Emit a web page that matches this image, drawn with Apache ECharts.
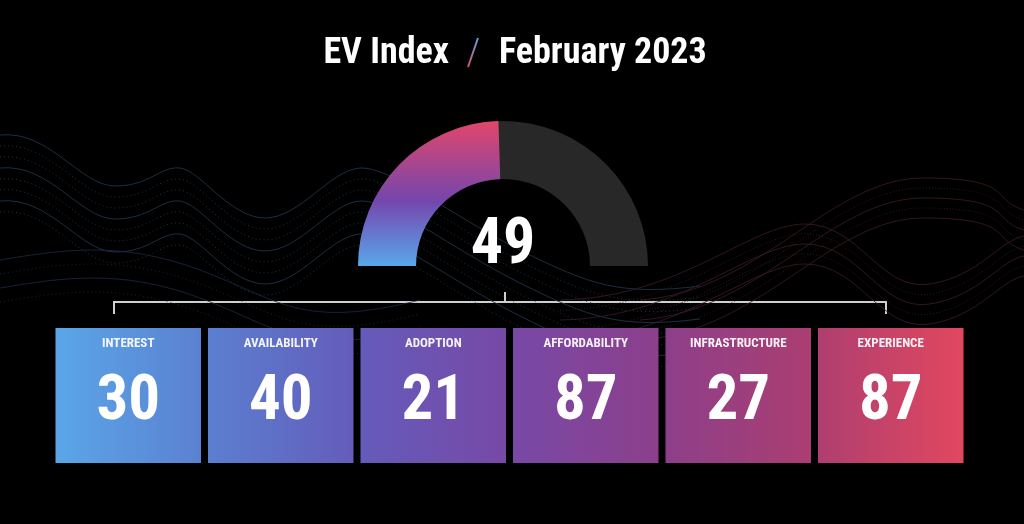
<!DOCTYPE html>
<html>
<head>
<meta charset="utf-8">
<script src="https://cdn.jsdelivr.net/npm/echarts@6/dist/echarts.min.js"></script>
<style>
  html, body { margin: 0; padding: 0; background: #000; }
  #chart { width: 1024px; height: 524px; }
</style>
</head>
<body>
<div id="chart"></div>
<script>
var indexValue = 49;
var categories = ['INTEREST', 'AVAILABILITY', 'ADOPTION', 'AFFORDABILITY', 'INFRASTRUCTURE', 'EXPERIENCE'];
var scores = [30, 40, 21, 87, 27, 87];

var FONT = "'Roboto Condensed', 'Liberation Sans Narrow', 'DejaVu Sans Condensed', Roboto, sans-serif";

// colour ramp used across the boxes, left to right
var ramp = [
  [0, [90, 167, 234]],
  [0.17, [91, 127, 208]],
  [0.35, [101, 88, 184]],
  [0.5, [120, 73, 167]],
  [0.67, [141, 63, 138]],
  [0.82, [168, 62, 114]],
  [1, [227, 71, 95]]
];
function rampColor(t) {
  for (var i = 1; i < ramp.length; i++) {
    if (t <= ramp[i][0]) {
      var a = ramp[i - 1], b = ramp[i];
      var k = (t - a[0]) / (b[0] - a[0]);
      var c = a[1].map(function (v, j) { return Math.round(v + (b[1][j] - v) * k); });
      return 'rgb(' + c.join(',') + ')';
    }
  }
  return 'rgb(' + ramp[ramp.length - 1][1].join(',') + ')';
}

// decorative background waves (svg path strings)
function wave(d, color, dash, op) {
  return {
    type: 'path',
    shape: { pathData: d },
    style: { fill: null, stroke: color, lineWidth: 1, lineDash: dash, opacity: op }
  };
}
function buildWaves() {
  var out = [];
  [0, 11, 22, 33, 44, 55, 66, 77].forEach(function (o, i) {
    var d = 'M0,' + (135 + o) + ' C50,' + (130 + o) + ' 80,' + (186 + o) + ' 115,' + (186 + o) +
      ' S160,' + (166 + o) + ' 180,' + (168 + o) + ' S230,' + (218 + o) + ' 265,' + (218 + o) +
      ' S330,' + (170 + o) + ' 360,' + (168 + o) + ' S450,' + (215 + o) + ' 520,' + (250 + o) +
      ' S620,' + (296 + o) + ' 700,' + (286 + o);
    out.push(wave(d, i % 3 === 0 ? '#1f3347' : '#24384e', i % 3 === 0 ? null : [1, 3], 0.9));
  });
  [0, 14, 28, 42].forEach(function (o, i) {
    var d = 'M0,' + (260 + o) + ' C60,' + (250 + o) + ' 120,' + (240 + o) + ' 200,' + (270 + o) +
      ' S300,' + (330 + o) + ' 420,' + (300 + o);
    out.push(wave(d, '#1c2c40', i % 2 ? [1, 3] : null, 0.8));
  });
  [0, 10, 20, 30, 40].forEach(function (o, i) {
    var d1 = 'M560,' + (300 + o) + ' C680,' + (298 + o) + ' 750,' + (224 + o) + ' 805,' + (224 + o) +
      ' S880,' + (292 + o) + ' 930,' + (284 + o) + ' S1000,' + (240 + o) + ' 1024,' + (236 + o);
    var d2 = 'M640,' + (300 + o) + ' C760,' + (292 + o) + ' 830,' + (178 + o) + ' 923,' + (178 + o) +
      ' S990,' + (200 + o) + ' 1024,' + (210 + o);
    out.push(wave(d1, '#3a1a2c', i % 2 ? [1, 2] : null, 0.85));
    out.push(wave(d2, '#3a1a2c', i % 2 ? [1, 2] : null, 0.85));
  });
  return out;
}

var chartDom = document.getElementById('chart');
var myChart = echarts.init(chartDom);
var option;

option = {
  backgroundColor: '#000',
  animation: false,
  title: [
    {
      text: 'EV Index',
      left: 444,
      top: 31,
      textAlign: 'right',
      textStyle: { color: '#fff', fontSize: 36, fontWeight: 'bold', fontFamily: FONT }
    },
    {
      text: 'February 2023',
      left: 494,
      top: 31,
      textStyle: { color: '#fff', fontSize: 36, fontWeight: 'bold', fontFamily: FONT }
    }
  ],
  graphic: [
    {
      type: 'line',
      shape: { x1: 478, y1: 38, x2: 468, y2: 67 },
      style: {
        lineWidth: 2,
        stroke: new echarts.graphic.LinearGradient(0, 0, 0, 1, [
          { offset: 0, color: '#58a6e6' },
          { offset: 1, color: '#e2466a' }
        ])
      }
    },
    {
      type: 'polyline',
      shape: { points: [[114, 314], [114, 302], [886, 302], [886, 314]] },
      style: { stroke: '#cfcfcf', lineWidth: 2, fill: null }
    },
    {
      type: 'line',
      shape: { x1: 505, y1: 292, x2: 505, y2: 302 },
      style: { stroke: '#cfcfcf', lineWidth: 2 }
    }
  ],
  grid: { left: 52, right: 57, top: 328, bottom: 61 },
  xAxis: { type: 'category', data: categories, show: false },
  yAxis: { type: 'value', min: 0, max: 100, show: false },
  series: [
    {
      type: 'custom',
      coordinateSystem: 'none',
      silent: true,
      z: 0,
      data: [0],
      renderItem: function () {
        return { type: 'group', children: buildWaves() };
      }
    },
    {
      type: 'gauge',
      center: [503, 266],
      radius: 145,
      startAngle: 180,
      endAngle: 0,
      min: 0,
      max: 100,
      z: 3,
      progress: {
        show: true,
        width: 58,
        itemStyle: {
          color: new echarts.graphic.LinearGradient(0, 1, 0, 0, [
            { offset: 0, color: '#58a8ea' },
            { offset: 0.45, color: '#7446ad' },
            { offset: 1, color: '#e2466a' }
          ])
        }
      },
      axisLine: { lineStyle: { width: 58, color: [[1, '#282828']] } },
      pointer: { show: false },
      anchor: { show: false },
      axisTick: { show: false },
      splitLine: { show: false },
      axisLabel: { show: false },
      title: { show: false },
      detail: {
        offsetCenter: [0, -19],
        fontSize: 64,
        fontWeight: 'bold',
        fontFamily: FONT,
        color: '#fff',
        valueAnimation: false
      },
      data: [{ value: indexValue }]
    },
    {
      type: 'custom',
      z: 3,
      data: scores.map(function (s, i) { return [i, s]; }),
      renderItem: function (params, api) {
        var i = api.value(0);
        var cx = api.coord([i, 0])[0];
        var band = api.size([1, 0])[0];
        var w = band - 7;
        var sys = params.coordSys;
        var x0 = cx - w / 2;
        var t0 = (x0 - sys.x) / sys.width;
        var t1 = (x0 + w - sys.x) / sys.width;
        return {
          type: 'group',
          children: [
            {
              type: 'rect',
              shape: { x: x0, y: sys.y, width: w, height: sys.height },
              style: {
                fill: new echarts.graphic.LinearGradient(0, 0, 1, 0, [
                  { offset: 0, color: rampColor(t0) },
                  { offset: 1, color: rampColor(t1) }
                ])
              }
            },
            {
              type: 'text',
              x: cx,
              y: sys.y + 16,
              style: {
                text: categories[i],
                fill: 'rgba(255,255,255,0.92)',
                fontSize: 13,
                fontWeight: 'bold',
                fontFamily: FONT,
                align: 'center',
                verticalAlign: 'middle'
              }
            },
            {
              type: 'text',
              x: cx,
              y: sys.y + 75,
              style: {
                text: String(api.value(1)),
                fill: '#fff',
                fontSize: 63,
                fontWeight: 'bold',
                fontFamily: FONT,
                align: 'center',
                verticalAlign: 'middle'
              }
            }
          ]
        };
      }
    }
  ]
};

option && myChart.setOption(option);
</script>
</body>
</html>
